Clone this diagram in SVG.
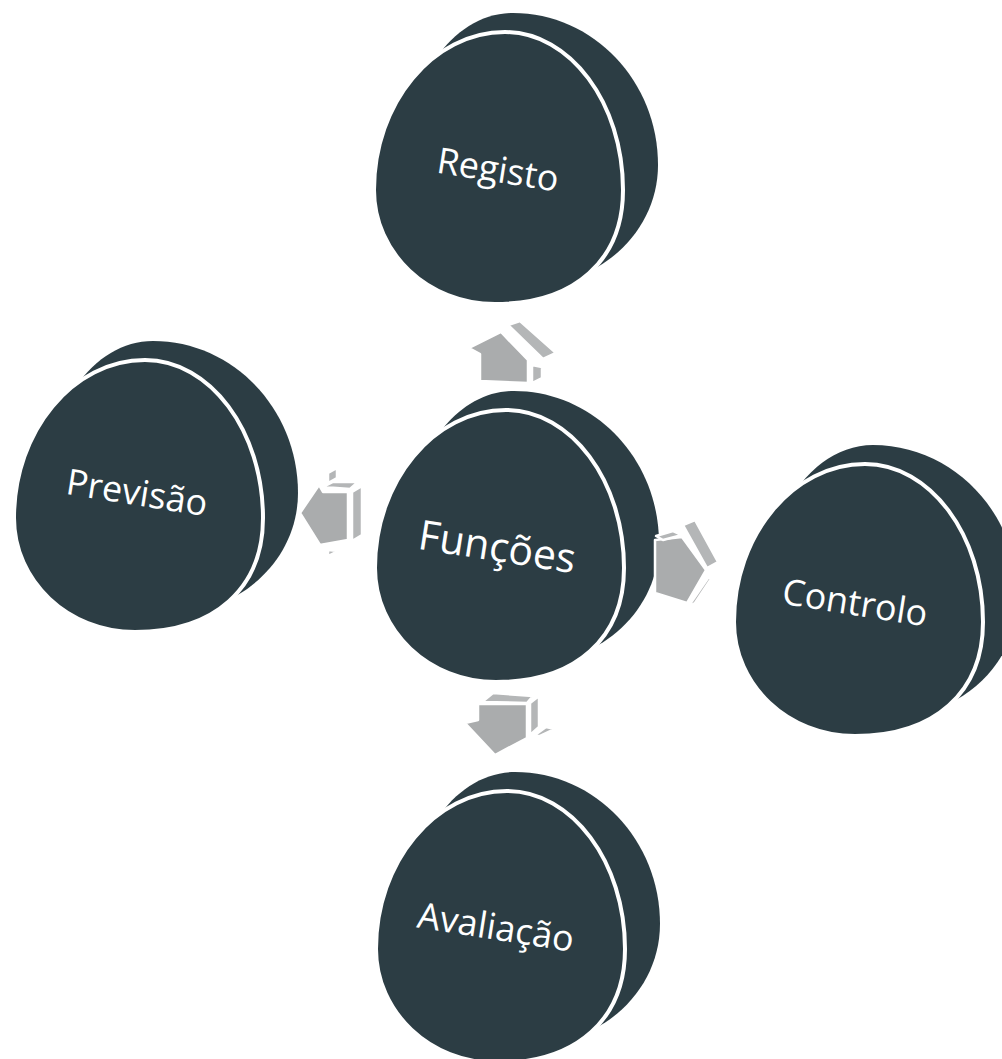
<svg xmlns="http://www.w3.org/2000/svg" xmlns:xlink="http://www.w3.org/1999/xlink" width="1002" height="1059" viewBox="0 0 1002 1059">
<style>
.disc{fill:#2c3d44}
.face{fill:#2c3d44;stroke:#ffffff;stroke-width:4}
.lbl{fill:#ffffff;font-family:"Open Sans","DejaVu Sans",sans-serif;font-size:36px;text-anchor:middle}
.big{font-size:41px}
.af{fill:#aaacad;stroke:#ffffff;stroke-width:2.5;stroke-linejoin:round}
.as{fill:#b4b6b7;stroke:#ffffff;stroke-width:2.5;stroke-linejoin:round}
</style>
<defs>
<path id="back" d="M 13,-157 C 93,-157 158,-89 158,-5 C 158,61 101,115 30,115 C -20,115 -95,61 -95,-5 C -95,-89 -47,-157 13,-157 Z"/>
<path id="front" d="M 5,-138 C 70,-138 123,-67 123,20 C 123,90 75,134 -5,134 C -72,134 -126,83 -126,20 C -126,-67 -67,-138 5,-138 Z"/>
</defs>
<rect width="1002" height="1059" fill="#ffffff"/>
<g id="node-registo" transform="translate(500,170)">
<use href="#back" class="disc"/>
<use href="#front" class="face"/>
<text class="lbl" transform="translate(-4,12) rotate(9)">Registo</text>
</g>
<g id="node-previsao" transform="translate(140,498)">
<use href="#back" class="disc"/>
<use href="#front" class="face"/>
<text class="lbl" transform="translate(-5,7) rotate(9)">Previsão</text>
</g>
<g id="node-funcoes" transform="translate(501,548)">
<use href="#back" class="disc"/>
<use href="#front" class="face"/>
<text class="lbl big" transform="translate(-6,13) rotate(9)">Funções</text>
</g>
<g id="node-controlo" transform="translate(860,602)">
<use href="#back" class="disc"/>
<use href="#front" class="face"/>
<text class="lbl" transform="translate(-7,13) rotate(9)">Controlo</text>
</g>
<g id="node-avaliacao" transform="translate(502,929)">
<use href="#back" class="disc"/>
<use href="#front" class="face"/>
<text class="lbl" transform="translate(-8,10.5) rotate(9)">Avaliação</text>
</g>
<g id="connectors">
<g id="arrow-up">
<polygon class="af" points="469,348 501,332 528,360 528,383 480,381 480,354"/>
<polygon class="as" points="508,325 520,321 556,353 543,359"/>
<polygon class="as" points="532,365 542,367 542,378 532,383"/>
</g>
<g id="arrow-left">
<polygon class="af" points="300,513 319,485 323,492 348,492 348,540 320,545"/>
<polygon class="as" points="323,487 333,482 358,482 350,489"/>
<polygon class="as" points="352,492 362,486 362,535 352,541"/>
<polygon class="as" points="328,473 337,468 337,478 328,483"/>
<polygon class="as" points="328,550 338,551 328,556"/>
</g>
<g id="arrow-right">
<polygon class="af" points="655,540 682,537 706,570 687,603 655,593"/>
<polygon class="as" points="656,536 673,531 682,535 663,540"/>
<polygon class="as" points="683,525 695,520 718,562 707,568"/>
<polygon class="as" points="688,607 708,578 713,576 695,603"/>
</g>
<g id="arrow-down">
<polygon class="as" points="482,702 493,693 533,696 527,703"/>
<polygon class="af" points="478,704 527,704 527,738 495,755 465,723 478,720"/>
<polygon class="as" points="530,703 539,696 539,727 530,735"/>
<polygon class="as" points="535,735 546,727 555,729 540,736"/>
</g>
</g>
</svg>
